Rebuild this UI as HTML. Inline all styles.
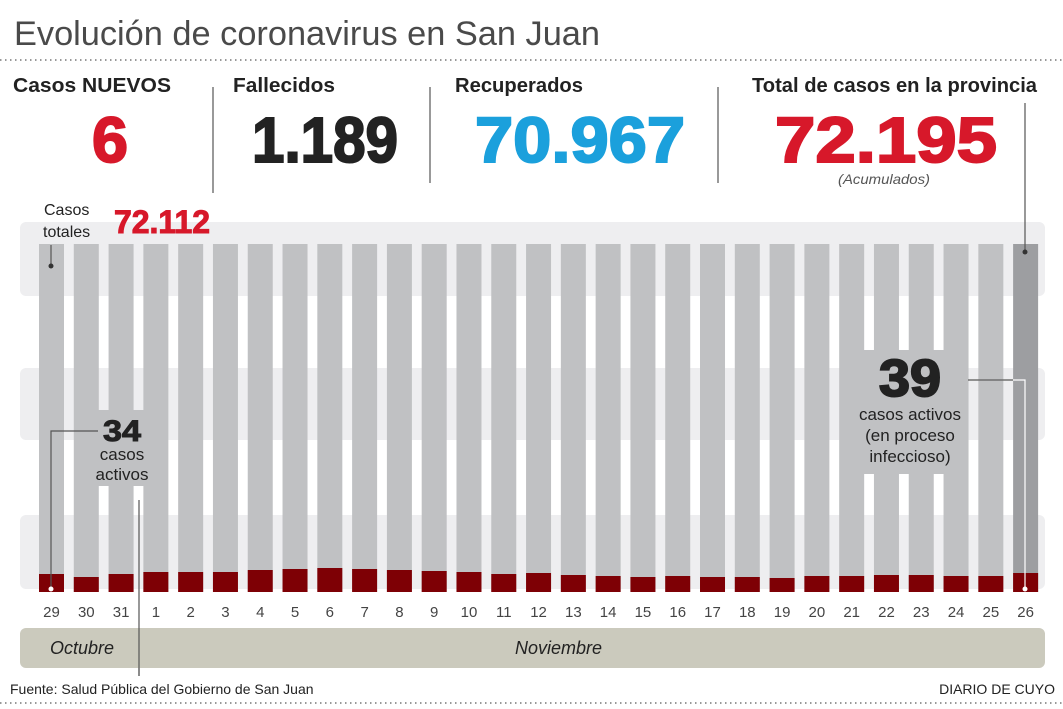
<!DOCTYPE html>
<html><head><meta charset="utf-8"><style>
body{margin:0;background:#fff}
svg{display:block}
text{font-family:"Liberation Sans",Arial,sans-serif}
</style></head><body>
<svg width="1063" height="709" viewBox="0 0 1063 709" xmlns="http://www.w3.org/2000/svg">
<text x="14" y="45" font-size="34" fill="#4a4a4a" textLength="586" lengthAdjust="spacingAndGlyphs">Evolución de coronavirus en San Juan</text>
<line x1="0" y1="60" x2="1063" y2="60" stroke="#777" stroke-width="1.5" stroke-dasharray="1.5 3.5"/>
<g font-weight="bold" font-size="20" fill="#222">
<text x="13" y="92" textLength="158" lengthAdjust="spacingAndGlyphs">Casos NUEVOS</text>
<text x="233" y="92" textLength="102" lengthAdjust="spacingAndGlyphs">Fallecidos</text>
<text x="455" y="92" textLength="128" lengthAdjust="spacingAndGlyphs">Recuperados</text>
<text x="752" y="92" textLength="285" lengthAdjust="spacingAndGlyphs">Total de casos en la provincia</text>
</g>
<g stroke="#555" stroke-width="1.2">
<line x1="213" y1="87" x2="213" y2="193"/>
<line x1="430" y1="87" x2="430" y2="183"/>
<line x1="718" y1="87" x2="718" y2="183"/>
</g>
<g font-weight="bold" font-size="64">
<text x="92" y="162" fill="#d7182a" textLength="36" lengthAdjust="spacingAndGlyphs" stroke="#d7182a" stroke-width="2">6</text>
<text x="252" y="162" fill="#222" textLength="146" lengthAdjust="spacingAndGlyphs" stroke="#222" stroke-width="2">1.189</text>
<text x="475" y="162" fill="#1ba0dc" textLength="210" lengthAdjust="spacingAndGlyphs" stroke="#1ba0dc" stroke-width="2">70.967</text>
<text x="775" y="162" fill="#d7182a" textLength="222" lengthAdjust="spacingAndGlyphs" stroke="#d7182a" stroke-width="2">72.195</text>
</g>
<text x="838" y="184" font-size="14" font-style="italic" fill="#555" textLength="92" lengthAdjust="spacingAndGlyphs">(Acumulados)</text>
<g fill="#eeeef0">
<rect x="20" y="222" width="1025" height="74" rx="6"/>
<rect x="20" y="368" width="1025" height="72" rx="6"/>
<rect x="20" y="515" width="1025" height="74" rx="6"/>
</g>
<g id="bars"></g>
<text x="44" y="215" font-size="16" fill="#222">Casos</text>
<text x="43" y="237" font-size="16" fill="#222">totales</text>
<text x="114" y="233" font-size="32" font-weight="bold" fill="#d7182a" stroke="#d7182a" stroke-width="1" textLength="96" lengthAdjust="spacingAndGlyphs">72.112</text>
<rect x="848" y="350" width="120" height="124" fill="#c0c1c3"/>
<rect x="92" y="410" width="66" height="76" fill="#c0c1c3"/>
<text x="879" y="396" font-size="52" font-weight="bold" fill="#222" stroke="#222" stroke-width="2" textLength="62" lengthAdjust="spacingAndGlyphs">39</text>
<g font-size="17" fill="#222" text-anchor="middle">
<text x="910" y="420">casos activos</text>
<text x="910" y="441">(en proceso</text>
<text x="910" y="462">infeccioso)</text>
<text x="122" y="460">casos</text>
<text x="122" y="480">activos</text>
</g>
<text x="103" y="441" font-size="30" font-weight="bold" fill="#222" stroke="#222" stroke-width="1" textLength="38" lengthAdjust="spacingAndGlyphs">34</text>
<g stroke="#555" stroke-width="1.2" fill="none">
<polyline points="51,590 51,431 98,431"/>
<polyline points="968,380 1025,380 1025,590" stroke="#fff"/>
<polyline points="968,380 1013,380" />
<line x1="51" y1="245" x2="51" y2="265"/>
<line x1="1025" y1="103" x2="1025" y2="250"/>
<line x1="139" y1="500" x2="139" y2="676"/>
</g>
<circle cx="51" cy="589" r="2.5" fill="#fff"/>
<circle cx="51" cy="266" r="2.5" fill="#333"/>
<circle cx="1025" cy="589" r="2.5" fill="#fff"/>
<circle cx="1025" cy="252" r="2.5" fill="#333"/>
<g id="labels" font-size="15" fill="#444" text-anchor="middle"></g>
<rect x="20" y="628" width="1025" height="40" rx="6" fill="#cbcabd"/>
<line x1="139" y1="628" x2="139" y2="676" stroke="#555" stroke-width="1.2"/>
<text x="50" y="654" font-size="18" font-style="italic" fill="#222">Octubre</text>
<text x="515" y="654" font-size="18" font-style="italic" fill="#222">Noviembre</text>
<text x="10" y="694" font-size="14" fill="#222">Fuente: Salud Pública del Gobierno de San Juan</text>
<text x="1055" y="694" font-size="14" fill="#222" text-anchor="end">DIARIO DE CUYO</text>
<line x1="0" y1="703" x2="1063" y2="703" stroke="#777" stroke-width="1.5" stroke-dasharray="1.5 3.5"/>
</svg>
<script>
var tops=[574,577,574,572,572,572,570,569,568,569,570,571,572,574,573,575,576,577,576,577,577,578,576,576,575,575,576,576,573];
var lbl=["29","30","31"];for(var i=1;i<=26;i++)lbl.push(""+i);
var ns="http://www.w3.org/2000/svg",g=document.getElementById("bars"),L=document.getElementById("labels");
for(var i=0;i<29;i++){var x=39+i*34.79;
var r=document.createElementNS(ns,"rect");r.setAttribute("x",x);r.setAttribute("y",244);r.setAttribute("width",25);r.setAttribute("height",348);r.setAttribute("fill",i==28?"#9d9ea1":"#c0c1c3");g.appendChild(r);
var d=document.createElementNS(ns,"rect");d.setAttribute("x",x);d.setAttribute("y",tops[i]);d.setAttribute("width",25);d.setAttribute("height",592-tops[i]);d.setAttribute("fill","#7e0005");g.appendChild(d);
var t=document.createElementNS(ns,"text");t.setAttribute("x",x+12.5);t.setAttribute("y",617);t.textContent=lbl[i];L.appendChild(t);}
</script>
</body></html>
